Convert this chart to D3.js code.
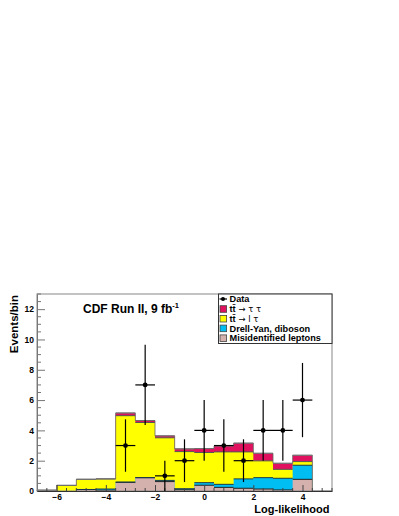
<!DOCTYPE html>
<html>
<head>
<meta charset="utf-8">
<script src="https://cdn.jsdelivr.net/npm/d3@7"></script>
<style>
  body { margin: 0; background: #fff; }
  svg text { font-family: "Liberation Sans", Arial, sans-serif; font-weight: bold; }
</style>
</head>
<body>
<svg id="chart" width="399" height="516"></svg>
<script>
// Bin edges of the log-likelihood histogram
const binEdges = [-6.8, -6.0, -5.2, -4.4, -3.6, -2.8, -2.0, -1.2, -0.4, 0.4, 1.2, 2.0, 2.8, 3.6, 4.4, 5.2];

// Stacked backgrounds, bottom to top (events per bin)
const misidLeptons = [0.02, 0.0, 0.10, 0.05, 0.57, 0.88, 0.62, 0.08, 0.38, 0.24, 0.18, 0.13, 0.07, 0.77, 0];
const drellYan     = [0.0, 0.0, 0.0, 0.08, 0.02, 0.0, 0.08, 0.07, 0.17, 0.20, 0.62, 0.75, 0.77, 0.93, 0];
const ttLepTau     = [0.03, 0.37, 0.67, 0.67, 4.38, 3.64, 2.81, 2.45, 1.99, 2.14, 1.78, 1.11, 0.59, 0.24, 0];
const ttTauTau     = [0.0, 0.0, 0.0, 0.0, 0.18, 0.13, 0.13, 0.18, 0.26, 0.40, 0.58, 0.50, 0.40, 0.42, 0];

// Observed data
const dataX   = [-3.2, -2.4, -1.6, -0.8, 0.0, 0.8, 1.6, 2.4, 3.2, 4.0];
const dataY   = [3, 7, 1, 2, 4, 3, 2, 4, 4, 6];
const dataErr = [1.73, 2.65, 1.0, 1.41, 2.0, 1.73, 1.41, 2.0, 2.0, 2.45];

const xTicks = [-6, -4, -2, 0, 2, 4];
const yTicks = [0, 2, 4, 6, 8, 10, 12];

const svg = d3.select("#chart");
const plotL = 37, plotR = 332, plotT = 294, plotB = 491;

const x = d3.scaleLinear().domain([-6.8, 5.2]).range([plotL, plotR]);
const y = d3.scaleLinear().domain([0, 13]).range([plotB, plotT]);

// Build stack
const layers = [
  { key: "mis", values: misidLeptons, fill: "#d4b1ad", stroke: "#222" },
  { key: "dy",  values: drellYan,     fill: "#00bdf2", stroke: "#1a3a4a" },
  { key: "lt",  values: ttLepTau,     fill: "#ffff00", stroke: "#555" },
  { key: "tt",  values: ttTauTau,     fill: "#e0115f", stroke: "#888" }
];
const rows = binEdges.slice(0, -1).map((e, i) => {
  const r = { i };
  layers.forEach(l => r[l.key] = l.values[i]);
  return r;
});
const stacked = d3.stack().keys(layers.map(l => l.key))(rows);

function stepPoints(series) {
  const pts = [];
  series.forEach((d, i) => {
    pts.push([binEdges[i], d[1]]);
    pts.push([binEdges[i + 1], d[1]]);
  });
  return pts;
}

// draw cumulative histograms from the top layer down, each filled from zero
const area = d3.area().x(p => x(p[0])).y0(y(0)).y1(p => y(p[1]));
const line = d3.line().x(p => x(p[0])).y(p => y(p[1]));
const histG = svg.append("g");
stacked.slice().reverse().forEach((s, k) => {
  const layer = layers[layers.length - 1 - k];
  histG.append("path").attr("d", area(stepPoints(s))).attr("fill", layer.fill);
});
stacked.forEach((s, k) => {
  s.forEach((d, i) => {
    if (d[1] <= 0.001) return;
    histG.append("path")
      .attr("d", line([[binEdges[i], d[1]], [binEdges[i + 1], d[1]]]))
      .attr("stroke", layers[k].stroke).attr("stroke-width", 1).attr("fill", "none");
  });
});
// outer envelope
const total = stacked[stacked.length - 1];
histG.append("path")
  .attr("d", line([[binEdges[0], 0]].concat(stepPoints(total))))
  .attr("stroke", "#666").attr("stroke-width", 0.8).attr("fill", "none");

// Frame
svg.append("rect").attr("x", plotL).attr("y", plotT)
  .attr("width", plotR - plotL).attr("height", plotB - plotT)
  .attr("fill", "none").attr("stroke", "#888").attr("stroke-width", 1);

// Y axis
const yAxis = d3.axisLeft(y).tickValues(yTicks).tickSize(-8).tickPadding(3).tickSizeOuter(0);
const yG = svg.append("g").attr("transform", `translate(${plotL},0)`).call(yAxis);
yG.select(".domain").attr("stroke", "#777");
yG.selectAll(".tick line").attr("stroke", "#777");
yG.selectAll("text").attr("font-size", 8.5).attr("fill", "#000");
const yMinor = d3.range(0, 13.01, 0.5).filter(v => v % 2 !== 0);
yG.selectAll(".minor").data(yMinor).enter().append("line")
  .attr("x1", 0).attr("x2", 4).attr("y1", d => y(d)).attr("y2", d => y(d))
  .attr("stroke", "#777");

// X axis
const xAxis = d3.axisBottom(x).tickValues(xTicks).tickSize(-6).tickPadding(3).tickSizeOuter(0);
const xG = svg.append("g").attr("transform", `translate(0,${plotB})`).call(xAxis);
xG.select(".domain").attr("stroke", "#333");
xG.selectAll(".tick line").attr("stroke", "#444");
xG.selectAll("text").attr("font-size", 8.5).attr("fill", "#000");
const xMinor = d3.range(-6.4, 5.2, 0.4).filter(v => Math.abs(v / 2 - Math.round(v / 2)) > 0.01);
xG.selectAll(".minor").data(xMinor).enter().append("line")
  .attr("x1", d => x(d)).attr("x2", d => x(d)).attr("y1", 0).attr("y2", -3)
  .attr("stroke", "#444");

// Data points
const dataG = svg.append("g");
dataX.forEach((xv, i) => {
  dataG.append("line").attr("x1", x(xv)).attr("x2", x(xv))
    .attr("y1", y(dataY[i] - dataErr[i])).attr("y2", y(dataY[i] + dataErr[i]))
    .attr("stroke", "#000").attr("stroke-width", 1.2);
  dataG.append("line").attr("x1", x(xv - 0.4)).attr("x2", x(xv + 0.4))
    .attr("y1", y(dataY[i])).attr("y2", y(dataY[i]))
    .attr("stroke", "#000").attr("stroke-width", 1.2);
  dataG.append("circle").attr("cx", x(xv)).attr("cy", y(dataY[i])).attr("r", 2.4).attr("fill", "#000");
});

// Title
const title = svg.append("text").attr("x", 83).attr("y", 313).attr("font-size", 12);
title.append("tspan").text("CDF Run II, 9 fb");
title.append("tspan").attr("font-size", 7.5).attr("dy", -5).text("-1");

// Axis titles
svg.append("text").attr("transform", "translate(17.5,295) rotate(-90)")
  .attr("text-anchor", "end").attr("font-size", 11.5).text("Events/bin");
svg.append("text").attr("x", 329.5).attr("y", 512.5)
  .attr("text-anchor", "end").attr("font-size", 11).text("Log-likelihood");

// Legend
const leg = svg.append("g");
leg.append("rect").attr("x", 218.5).attr("y", 294).attr("width", 113.5).attr("height", 49.5)
  .attr("fill", "#fff").attr("stroke", "#333").attr("stroke-width", 1);
leg.append("line").attr("x1", 219.5).attr("x2", 227).attr("y1", 299).attr("y2", 299)
  .attr("stroke", "#000").attr("stroke-width", 1.2);
leg.append("circle").attr("cx", 223).attr("cy", 299).attr("r", 2).attr("fill", "#000");
leg.append("text").attr("x", 229.5).attr("y", 302.3).attr("font-size", 9.2).text("Data");

const legRows = [
  { layer: layers[3], y: 309, label: "tau" },
  { layer: layers[2], y: 318.7, label: "lep" },
  { layer: layers[1], y: 328.4, label: "Drell-Yan, diboson" },
  { layer: layers[0], y: 338.2, label: "Misidentified leptons" }
];
legRows.forEach(r => {
  leg.append("rect").attr("x", 220).attr("y", r.y - 3.3).attr("width", 6.6).attr("height", 6.6)
    .attr("fill", r.layer.fill).attr("stroke", "#444").attr("stroke-width", 0.8);
  const t = leg.append("text").attr("x", 229.5).attr("y", r.y + 3.2).attr("font-size", 9.2);
  if (r.label === "tau" || r.label === "lep") {
    t.append("tspan").text("tt\u0304");
    t.append("tspan").attr("font-weight", "normal").attr("font-size", 8.5)
      .attr("font-family", "DejaVu Sans, sans-serif")
      .text(r.label === "tau" ? " \u2192 \u03c4 \u03c4" : " \u2192 l \u03c4");
  } else {
    t.text(r.label);
  }
});
</script>
</body>
</html>
